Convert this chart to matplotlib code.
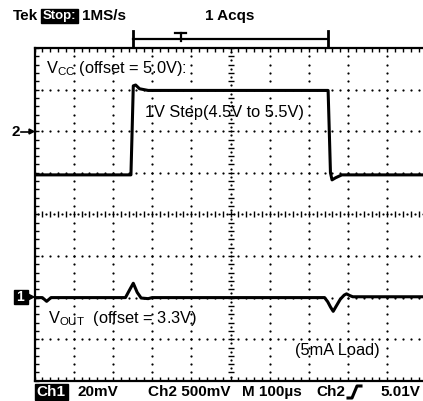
import numpy as np
import matplotlib
matplotlib.use("Agg")
import matplotlib.pyplot as plt
from matplotlib.lines import Line2D
from matplotlib.patches import Rectangle

# ---------------- data ----------------
# Ch2 (V_CC) trace: time in microseconds, volts
ch2_t = [0, 246, 249, 252, 258, 268, 290, 300, 749, 752, 755, 759, 768, 784, 1000]
ch2_v = [4.475, 4.475, 5.0, 5.545, 5.555, 5.51, 5.49, 5.49, 5.49, 5.0, 4.5, 4.415, 4.44, 4.475, 4.475]
# Ch1 (V_OUT) trace: time in microseconds, volts
ch1_t = [0, 20, 31, 42, 232, 242, 252, 262, 272, 290, 300, 740, 748, 755, 762, 770, 780, 790, 796, 804, 812, 1000]
ch1_v = [3.300, 3.300, 3.2982, 3.300, 3.300, 3.3035, 3.3069, 3.3025, 3.2998, 3.2995, 3.300,
         3.3, 3.298, 3.2955, 3.2934, 3.296, 3.2992, 3.3012, 3.3018, 3.3010, 3.3004, 3.3004]

ch2_offset, ch2_scale, ch2_pos = 5.0, 0.5, 2.0     # V, V/div, div
ch1_offset, ch1_scale, ch1_pos = 3.3, 0.02, -2.0   # V, V/div, div
time_div = 100  # us/div

header_left = ["Tek", "Stop:", "1MS/s"]
header_mid = "1 Acqs"
label_vcc = r"V$_{\mathregular{CC}}$ (offset = 5.0V):"
label_step = "1V Step(4.5V to 5.5V)"
label_vout = r"V$_{\mathregular{OUT}}$  (offset = 3.3V)"
label_load = "(5mA Load)"
bottom_texts = ["Ch1", "20mV", "Ch2 500mV", "M 100\u00b5s", "Ch2", "5.01V"]

# ---------------- figure ----------------
W, H = 423, 401
fig = plt.figure(figsize=(W / 100, H / 100), dpi=100)
plt.rcParams['font.family'] = ['Liberation Sans', 'DejaVu Sans']

def fx(x):
    return x / W

def fy(y):
    return 1 - y / H

left_px, top_px, div_px_x, div_px_y = 34.5, 48, 39.2, 41.6
ax = fig.add_axes([fx(left_px), fy(top_px + 8 * div_px_y), 10 * div_px_x / W, 8 * div_px_y / H])
ax.set_xlim(0, 10 * time_div)
ax.set_ylim(-4, 4)
for s in ['top', 'left', 'bottom']:
    ax.spines[s].set_linewidth(1.6)
ax.spines['right'].set_visible(False)
minor_x = np.arange(0, 1000.1, 20)
minor_y = np.arange(-4, 4.01, 0.2)
ax.set_xticks(minor_x)
ax.set_yticks(minor_y)
ax.tick_params(axis='both', which='both', direction='in', length=3, width=1.0,
               labelbottom=False, labelleft=False, top=True, right=False)

# grid dots
for k in range(1, 10):
    if k == 5:
        continue
    xs = np.full_like(minor_y, k * time_div)
    ax.plot(xs, minor_y, ls='none', marker='o', ms=1.6, color='black', mec='none')
for k in range(-3, 4):
    if k == 0:
        continue
    ys = np.full_like(minor_x, k)
    ax.plot(minor_x, ys, ls='none', marker='o', ms=1.6, color='black', mec='none')
# center lines with ticks
ax.plot(minor_x, np.zeros_like(minor_x), ls='none', marker='|', ms=5, mew=1.0, color='black')
ax.plot(minor_x + 10, np.zeros_like(minor_x), ls='none', marker='o', ms=1.6, color='black', mec='none')
ax.plot(np.full_like(minor_y, 500), minor_y, ls='none', marker='_', ms=5, mew=1.0, color='black')
ax.plot(np.full_like(minor_y, 500), minor_y + 0.1, ls='none', marker='o', ms=1.6, color='black', mec='none')

# traces
ch2_div = ch2_pos + (np.array(ch2_v) - ch2_offset) / ch2_scale
ch1_div = ch1_pos + (np.array(ch1_v) - ch1_offset) / ch1_scale
ax.plot(ch2_t, ch2_div, color='black', lw=2.2, solid_joinstyle='round', zorder=5)
ax.plot(ch1_t, ch1_div, color='black', lw=2.2, solid_joinstyle='round', zorder=5)

# trace labels
fs_lab = 11.8
fig.text(fx(46), fy(69), label_vcc, fontsize=fs_lab, va='center', ha='left')
fig.text(fx(145), fy(113), label_step, fontsize=fs_lab, va='center', ha='left')
fig.text(fx(48), fy(319), label_vout, fontsize=fs_lab, va='center', ha='left')
fig.text(fx(295), fy(351), label_load, fontsize=fs_lab, va='center', ha='left')

# header
fs_h = 11
fig.text(fx(13), fy(16), header_left[0], fontsize=fs_h, weight='bold', va='center', ha='left')
fig.patches.append(Rectangle((fx(41), fy(23)), fx(78) - fx(41), fy(9) - fy(23),
                             transform=fig.transFigure, color='black'))
fig.text(fx(42.5), fy(16), header_left[1], fontsize=9.5, weight='bold', color='white',
         va='center', ha='left')
fig.text(fx(82), fy(16), header_left[2], fontsize=fs_h, weight='bold', va='center', ha='left')
fig.text(fx(205), fy(16), header_mid, fontsize=fs_h, weight='bold', va='center', ha='left')

# record bracket
def fline(xs, ys, lw=1.6):
    fig.add_artist(Line2D([fx(v) for v in xs], [fy(v) for v in ys], color='black', lw=lw,
                          transform=fig.transFigure))
fline([133, 328], [39, 39])
fline([133, 133], [31, 46], lw=2)
fline([328, 328], [31, 46], lw=2)
fline([175, 186], [32.5, 32.5], lw=1.6)
fline([180.5, 180.5], [32.5, 41], lw=1.6)

# channel markers
fig.text(fx(11), fy(132), "2", fontsize=fs_h, weight='bold', va='center', ha='left')
fline([21, 31], [131.5, 131.5], lw=1.2)
fig.add_artist(plt.Polygon([[fx(29), fy(129)], [fx(34), fy(131.5)], [fx(29), fy(134)]],
                           closed=True, color='black', transform=fig.transFigure))
fig.patches.append(Rectangle((fx(14), fy(304)), fx(28) - fx(14), fy(290) - fy(304),
                             transform=fig.transFigure, color='black'))
fig.text(fx(16), fy(297), "1", fontsize=10, weight='bold', color='white', va='center', ha='left')
fig.add_artist(plt.Polygon([[fx(27), fy(293.5)], [fx(34), fy(297)], [fx(27), fy(300.5)]],
                           closed=True, color='black', transform=fig.transFigure))

# bottom status line
yb = 392
fig.patches.append(Rectangle((fx(35), fy(400)), fx(68) - fx(35), fy(384) - fy(400),
                             transform=fig.transFigure, color='black'))
fig.text(fx(36), fy(yb), bottom_texts[0], fontsize=fs_h, weight='bold', color='white',
         va='center', ha='left')
fig.text(fx(77), fy(yb), bottom_texts[1], fontsize=fs_h, weight='bold', va='center', ha='left')
fig.text(fx(148), fy(yb), bottom_texts[2], fontsize=fs_h, weight='bold', va='center', ha='left')
fig.text(fx(242), fy(yb), bottom_texts[3], fontsize=fs_h, weight='bold', va='center', ha='left')
fig.text(fx(316), fy(yb), bottom_texts[4], fontsize=fs_h, weight='bold', va='center', ha='left')
# rising-edge trigger symbol
fline([348, 352, 357, 361], [398, 398, 386, 386], lw=2.2)
fig.text(fx(380), fy(yb), bottom_texts[5], fontsize=fs_h, weight='bold', va='center', ha='left')

fig.savefig("out.png", dpi=100)
